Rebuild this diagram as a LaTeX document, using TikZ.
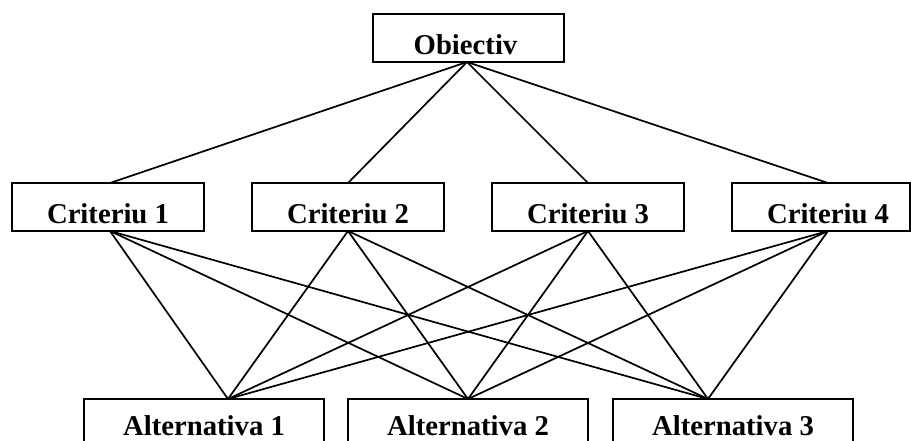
\documentclass[tikz,border=0pt]{standalone}
\usepackage{fontspec}
\setmainfont{Liberation Serif}
\begin{document}
\begin{tikzpicture}[x=1pt,y=-1pt,
  box/.style={draw=black,line width=2pt},
  lbl/.style={anchor=base,inner sep=0pt,font=\fontsize{28.7}{34}\selectfont\bfseries},
  link/.style={draw=black,line width=1.7pt}]
\useasboundingbox (0,0) rectangle (911,441);
\clip (0,0) rectangle (911,441);
% boxes
\draw[box] (373,14) rectangle (564,62);
\draw[box] (12,183) rectangle (204,231);
\draw[box] (252,183) rectangle (444,231);
\draw[box] (492,183) rectangle (684,231);
\draw[box] (732,183) rectangle (910,231);
\draw[box] (84,399) rectangle (324,460);
\draw[box] (348,399) rectangle (588,460);
\draw[box] (613,399) rectangle (853,460);
% labels
\node[lbl] (obj) at (465.5,55) {Obiectiv};
\node[lbl] (c1) at (108,223) {Criteriu 1};
\node[lbl] (c2) at (348,223) {Criteriu 2};
\node[lbl] (c3) at (588,223) {Criteriu 3};
\node[lbl] (c4) at (828,223) {Criteriu 4};
\node[lbl] (a1) at (204,435.5) {Alternativa 1};
\node[lbl] (a2) at (468,435.5) {Alternativa 2};
\node[lbl] (a3) at (733,435.5) {Alternativa 3};
% attach points
\coordinate (ob) at (467,62);
\coordinate (c1t) at (110,183); \coordinate (c1b) at (110,231);
\coordinate (c2t) at (348,183); \coordinate (c2b) at (348,231);
\coordinate (c3t) at (588,183); \coordinate (c3b) at (588,231);
\coordinate (c4t) at (828,183); \coordinate (c4b) at (828,231);
\coordinate (a1t) at (228,399);
\coordinate (a2t) at (468,399);
\coordinate (a3t) at (708,399);
% connectors
\foreach \c in {c1t,c2t,c3t,c4t} \draw[link] (ob) -- (\c);
\foreach \c in {c1b,c2b,c3b,c4b}
  \foreach \a in {a1t,a2t,a3t}
    \draw[link] (\c) -- (\a);
\end{tikzpicture}
\end{document}
